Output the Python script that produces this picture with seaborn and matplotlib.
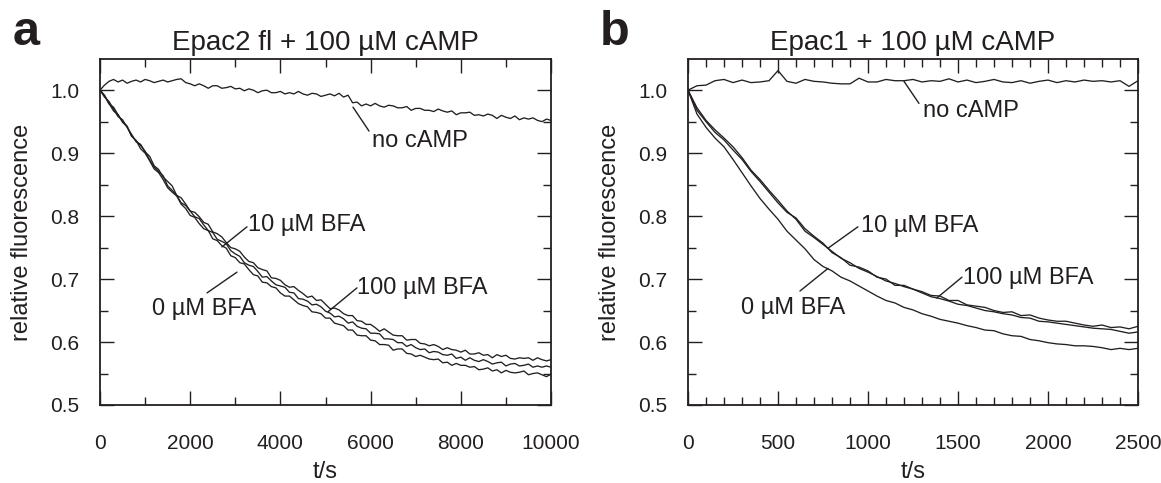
import numpy as np
import pandas as pd
import matplotlib
matplotlib.use("Agg")
import matplotlib.pyplot as plt
from matplotlib.ticker import MultipleLocator
import seaborn as sns

# ---------------- data: panel a (Epac2 fl), sampled every 100 s ----------------
t_a = list(range(0, 10001, 100))
a_no_camp = [1.000, 1.008, 1.014, 1.017, 1.013, 1.016, 1.011, 1.014, 1.016, 1.013,
             1.017, 1.015, 1.012, 1.014, 1.016, 1.013, 1.015, 1.017, 1.018, 1.012,
             1.010, 1.007, 1.010, 1.007, 1.003, 1.007, 1.007, 1.003, 1.004, 1.006,
             1.002, 1.003, 0.999, 1.002, 1.000, 0.996, 0.999, 1.000, 0.996, 0.996,
             0.998, 0.994, 0.996, 0.994, 0.998, 0.994, 0.992, 0.995, 0.994, 0.990,
             0.992, 0.994, 0.991, 0.995, 0.989, 0.992, 0.980, 0.981, 0.975, 0.978,
             0.975, 0.979, 0.975, 0.973, 0.976, 0.975, 0.972, 0.972, 0.974, 0.968,
             0.971, 0.971, 0.968, 0.968, 0.966, 0.970, 0.967, 0.965, 0.967, 0.961,
             0.964, 0.964, 0.965, 0.960, 0.961, 0.959, 0.962, 0.960, 0.955, 0.960,
             0.957, 0.955, 0.959, 0.953, 0.956, 0.954, 0.956, 0.952, 0.950, 0.954,
             0.952]
a_bfa0 = [1.000, 0.992, 0.979, 0.967, 0.961, 0.950, 0.943, 0.927, 0.920, 0.907,
          0.900, 0.888, 0.875, 0.869, 0.858, 0.845, 0.838, 0.832, 0.819, 0.812,
          0.801, 0.798, 0.788, 0.780, 0.777, 0.764, 0.761, 0.753, 0.749, 0.737,
          0.734, 0.726, 0.724, 0.715, 0.707, 0.705, 0.695, 0.694, 0.688, 0.686,
          0.678, 0.673, 0.673, 0.667, 0.661, 0.658, 0.656, 0.648, 0.647, 0.645,
          0.638, 0.638, 0.630, 0.628, 0.626, 0.619, 0.619, 0.611, 0.610, 0.610,
          0.603, 0.602, 0.596, 0.596, 0.595, 0.587, 0.589, 0.589, 0.582, 0.581,
          0.577, 0.579, 0.576, 0.573, 0.572, 0.573, 0.567, 0.568, 0.563, 0.566,
          0.563, 0.563, 0.560, 0.561, 0.556, 0.557, 0.559, 0.554, 0.556, 0.551,
          0.555, 0.552, 0.551, 0.552, 0.554, 0.548, 0.550, 0.551, 0.548, 0.545,
          0.549]
a_bfa10 = [1.000, 0.991, 0.978, 0.973, 0.961, 0.949, 0.942, 0.927, 0.920, 0.912,
           0.903, 0.889, 0.878, 0.871, 0.864, 0.848, 0.841, 0.833, 0.821, 0.817,
           0.808, 0.799, 0.796, 0.786, 0.777, 0.774, 0.763, 0.760, 0.756, 0.745,
           0.740, 0.736, 0.726, 0.722, 0.720, 0.712, 0.703, 0.704, 0.697, 0.691,
           0.689, 0.687, 0.679, 0.678, 0.669, 0.668, 0.665, 0.659, 0.660, 0.656,
           0.649, 0.646, 0.640, 0.641, 0.637, 0.630, 0.632, 0.625, 0.622, 0.621,
           0.614, 0.614, 0.613, 0.605, 0.605, 0.604, 0.599, 0.599, 0.593, 0.596,
           0.591, 0.588, 0.589, 0.583, 0.585, 0.584, 0.580, 0.579, 0.581, 0.574,
           0.576, 0.571, 0.575, 0.571, 0.569, 0.572, 0.569, 0.565, 0.567, 0.568,
           0.562, 0.565, 0.566, 0.562, 0.563, 0.565, 0.560, 0.562, 0.560, 0.562,
           0.560]
a_bfa100 = [1.000, 0.989, 0.982, 0.970, 0.958, 0.953, 0.941, 0.930, 0.918, 0.914,
            0.902, 0.895, 0.880, 0.874, 0.862, 0.855, 0.848, 0.833, 0.829, 0.819,
            0.808, 0.806, 0.799, 0.790, 0.787, 0.775, 0.772, 0.767, 0.758, 0.750,
            0.748, 0.744, 0.735, 0.728, 0.726, 0.718, 0.715, 0.713, 0.702, 0.701,
            0.698, 0.691, 0.687, 0.688, 0.682, 0.677, 0.671, 0.673, 0.666, 0.667,
            0.660, 0.653, 0.654, 0.651, 0.645, 0.642, 0.642, 0.634, 0.633, 0.628,
            0.628, 0.623, 0.617, 0.621, 0.616, 0.611, 0.610, 0.610, 0.603, 0.604,
            0.604, 0.598, 0.597, 0.594, 0.596, 0.593, 0.588, 0.591, 0.588, 0.587,
            0.584, 0.587, 0.581, 0.581, 0.583, 0.579, 0.580, 0.575, 0.580, 0.577,
            0.579, 0.574, 0.573, 0.575, 0.574, 0.575, 0.571, 0.575, 0.572, 0.570,
            0.572]

# ---------------- data: panel b (Epac1), sampled every 50 s ----------------
t_b = list(range(0, 2501, 50))
b_no_camp = [1.000, 1.007, 1.008, 1.015, 1.017, 1.012, 1.016, 1.012, 1.013, 1.015,
             1.031, 1.014, 1.011, 1.017, 1.014, 1.013, 1.011, 1.010, 1.010, 1.019,
             1.013, 1.013, 1.017, 1.015, 1.015, 1.017, 1.013, 1.015, 1.014, 1.018,
             1.013, 1.016, 1.012, 1.014, 1.017, 1.013, 1.012, 1.015, 1.011, 1.014,
             1.016, 1.012, 1.015, 1.013, 1.016, 1.014, 1.015, 1.013, 1.015, 1.006,
             1.015]
b_bfa0 = [1.000, 0.962, 0.941, 0.924, 0.910, 0.890, 0.869, 0.848, 0.828, 0.811,
          0.795, 0.776, 0.762, 0.748, 0.731, 0.720, 0.713, 0.703, 0.697, 0.689,
          0.681, 0.673, 0.666, 0.662, 0.655, 0.651, 0.645, 0.641, 0.636, 0.633,
          0.630, 0.626, 0.623, 0.619, 0.618, 0.613, 0.610, 0.609, 0.604, 0.602,
          0.599, 0.597, 0.596, 0.594, 0.594, 0.593, 0.591, 0.588, 0.590, 0.588,
          0.590]
b_bfa10 = [1.000, 0.972, 0.952, 0.937, 0.924, 0.910, 0.893, 0.873, 0.858, 0.841,
           0.825, 0.808, 0.795, 0.776, 0.766, 0.755, 0.744, 0.733, 0.726, 0.717,
           0.711, 0.704, 0.697, 0.693, 0.688, 0.684, 0.678, 0.672, 0.669, 0.665,
           0.660, 0.658, 0.654, 0.650, 0.648, 0.645, 0.643, 0.639, 0.638, 0.633,
           0.632, 0.630, 0.628, 0.626, 0.624, 0.622, 0.621, 0.620, 0.617, 0.614,
           0.616]
b_bfa100 = [1.000, 0.968, 0.950, 0.933, 0.921, 0.905, 0.890, 0.871, 0.855, 0.838,
            0.821, 0.806, 0.797, 0.780, 0.768, 0.757, 0.742, 0.734, 0.722, 0.719,
            0.713, 0.703, 0.700, 0.690, 0.690, 0.684, 0.680, 0.674, 0.673, 0.666,
            0.666, 0.659, 0.657, 0.655, 0.650, 0.647, 0.648, 0.642, 0.643, 0.638,
            0.635, 0.633, 0.633, 0.630, 0.627, 0.625, 0.627, 0.623, 0.624, 0.621,
            0.625]

titles = ["Epac2 fl + 100 µM cAMP", "Epac1 + 100 µM cAMP"]
panel_letters = ["a", "b"]
series_names = ["no cAMP", "0 µM BFA", "10 µM BFA", "100 µM BFA"]

# ---------------- styling ----------------
sns.set_style("ticks")
plt.rcParams["font.family"] = ["Liberation Sans", "DejaVu Sans"]
INK = "#231f20"
plt.rcParams.update({
    "text.color": INK, "axes.labelcolor": INK,
    "xtick.color": INK, "ytick.color": INK,
    "axes.edgecolor": INK,
})

W, H = 1161, 483
fig = plt.figure(figsize=(W / 100, H / 100), dpi=100)

def frac(x0, x1, ytop, ybot):
    return [x0 / W, 1 - ybot / H, (x1 - x0) / W, (ybot - ytop) / H]

ax_a = fig.add_axes(frac(100, 551, 59.3, 405))
ax_b = fig.add_axes(frac(688, 1138, 59.3, 405))

def make_df(t, arrays):
    rows = []
    for name, vals in zip(series_names, arrays):
        rows.append(pd.DataFrame({"t": t, "f": vals, "series": name}))
    return pd.concat(rows, ignore_index=True)

df_a = make_df(t_a, [a_no_camp, a_bfa0, a_bfa10, a_bfa100])
df_b = make_df(t_b, [b_no_camp, b_bfa0, b_bfa10, b_bfa100])

for ax, df in [(ax_a, df_a), (ax_b, df_b)]:
    sns.lineplot(data=df, x="t", y="f", units="series", estimator=None,
                 color=INK, linewidth=0.95, ax=ax, legend=False)

# annotations (layout): text position, leader line (from, to)
ann_a = [
    ("no cAMP", (6031, 0.910), (5965, 0.935), (5610, 0.973)),
    ("10 µM BFA", (3282, 0.776), (3259, 0.783), (2705, 0.751)),
    ("0 µM BFA", (1153, 0.643), (2373, 0.678), (3038, 0.711)),
    ("100 µM BFA", (5698, 0.676), (5698, 0.686), (5055, 0.648)),
]
ann_b = [
    ("no cAMP", (1306, 0.957), (1283, 0.979), (1200, 1.014)),
    ("10 µM BFA", (961, 0.775), (944, 0.783), (778, 0.749)),
    ("100 µM BFA", (1528, 0.692), (1522, 0.703), (1383, 0.670)),
    ("0 µM BFA", (294, 0.644), (622, 0.681), (778, 0.717)),
]

for ax, title, xmax, xmaj, xmin, anns in [
        (ax_a, titles[0], 10000, 2000, 1000, ann_a),
        (ax_b, titles[1], 2500, 500, 100, ann_b)]:
    ax.set_xlim(0, xmax)
    ax.set_ylim(0.5, 1.049)
    ax.xaxis.set_major_locator(MultipleLocator(xmaj))
    ax.xaxis.set_minor_locator(MultipleLocator(xmin))
    ax.yaxis.set_minor_locator(MultipleLocator(0.05))
    ax.set_yticks([0.5, 0.6, 0.7, 0.8, 0.9, 1.0])
    ax.set_yticklabels(["0.5", "0.6", "0.7", "0.8", "0.9", "1.0"])
    ax.tick_params(which="both", direction="in", top=True, right=True,
                   width=1.0)
    ax.tick_params(which="major", length=10)
    ax.tick_params(which="minor", length=6)
    ax.tick_params(axis="y", which="major", pad=15, labelsize=15)
    ax.tick_params(axis="x", which="major", pad=21, labelsize=15)
    for sp in ax.spines.values():
        sp.set_linewidth(1.3)
    ax.set_xlabel("t/s", fontsize=17, labelpad=6)
    ax.set_ylabel("relative fluorescence", fontsize=17, labelpad=12)
    ax.set_title(title, fontsize=20, pad=7)
    for text, tpos, p0, p1 in anns:
        ax.annotate("", xy=p1, xytext=p0,
                    arrowprops=dict(arrowstyle="-", color=INK, lw=1.0,
                                    shrinkA=0, shrinkB=0))
        ax.text(tpos[0], tpos[1], text, fontsize=17, ha="left", va="baseline")

fig.text(13 / W, 1 - 45 / H, panel_letters[0], fontsize=35, fontweight="bold",
         ha="left", va="baseline")
fig.text(600 / W, 1 - 45 / H, panel_letters[1], fontsize=35, fontweight="bold",
         ha="left", va="baseline")

fig.savefig("out.png", dpi=100)
